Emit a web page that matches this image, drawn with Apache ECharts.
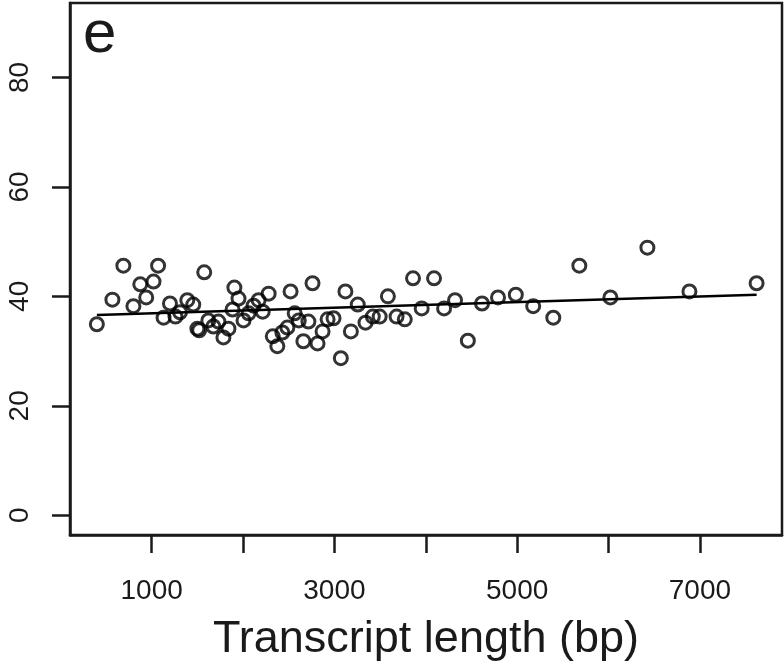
<!DOCTYPE html>
<html>
<head>
<meta charset="utf-8">
<script src="https://cdn.jsdelivr.net/npm/echarts@6/dist/echarts.min.js"></script>
<style>
  html, body { margin: 0; padding: 0; background: #fff; }
  #chart { width: 784px; height: 667px; }
</style>
</head>
<body>
<div id="chart"></div>
<script>
// transcript length (bp) and value per transcript
const lengths = [400, 570, 690, 800, 875, 940, 1020, 1070, 1130, 1200,
  1260, 1310, 1390, 1455, 1500, 1520, 1575, 1620, 1675, 1730,
  1785, 1840, 1885, 1905, 1950, 2005, 2060, 2115, 2170, 2215,
  2280, 2325, 2375, 2430, 2485, 2520, 2565, 2610, 2660, 2715,
  2760, 2815, 2870, 2925, 2990, 3070, 3120, 3180, 3255, 3340,
  3420, 3495, 3585, 3680, 3770, 3860, 3955, 4090, 4200, 4320,
  4460, 4615, 4790, 4985, 5175, 5395, 5680, 6020, 6425, 6885, 7620];
const values = [34.9, 39.4, 45.6, 38.2, 42.2, 39.8, 42.7, 45.6, 36.1, 38.7,
  36.3, 37.1, 39.3, 38.5, 34.1, 33.8, 44.4, 35.6, 34.5, 35.4,
  32.5, 34.1, 37.6, 41.6, 39.6, 35.6, 36.9, 38.3, 39.3, 37.2,
  40.5, 32.7, 30.9, 33.4, 34.3, 40.9, 36.9, 35.6, 31.8, 35.4,
  42.4, 31.4, 33.6, 35.8, 36.0, 28.7, 40.9, 33.6, 38.5, 35.2,
  36.3, 36.3, 40.0, 36.3, 35.8, 43.3, 37.8, 43.3, 37.8, 39.3,
  31.9, 38.7, 39.8, 40.3, 38.2, 36.1, 45.6, 39.8, 48.9, 40.9, 42.4];

// fitted line end points
const fitX = [400, 7620];
const fitY = [36.6, 40.3];

const xTicks = [1000, 2000, 3000, 4000, 5000, 6000, 7000];
const xLabels = [1000, 3000, 5000, 7000];
const yTicks = [0, 20, 40, 60, 80];

const font = 'Liberation Sans, Arial, Helvetica, sans-serif';
const ink = '#1a1a1a';

const chart = echarts.init(document.getElementById('chart'));

chart.setOption({
  backgroundColor: '#fff',
  animation: false,
  title: {
    text: 'e',
    left: 78,
    top: 0,
    textStyle: { fontFamily: font, fontSize: 60, fontWeight: 'normal', color: ink }
  },
  grid: {
    left: 70, right: 2, top: 3, bottom: 129,
    show: true, borderColor: ink, borderWidth: 2.5
  },
  xAxis: {
    type: 'value',
    min: 106,
    max: 7898,
    name: 'Transcript length (bp)',
    nameLocation: 'middle',
    nameGap: 82,
    nameTextStyle: { fontFamily: font, fontSize: 45, color: ink },
    axisLine: { show: true, onZero: false, lineStyle: { color: ink, width: 2.5 } },
    axisTick: { show: true, inside: false, length: 18, customValues: xTicks,
      lineStyle: { color: ink, width: 2.5 } },
    axisLabel: { customValues: xLabels, margin: 42, formatter: v => String(v),
      fontFamily: font, fontSize: 28, color: ink },
    splitLine: { show: false }
  },
  yAxis: {
    type: 'value',
    min: -3.6,
    max: 93.6,
    axisLine: { show: true, onZero: false, lineStyle: { color: ink, width: 2.5 } },
    axisTick: { show: true, inside: false, length: 18, customValues: yTicks,
      lineStyle: { color: ink, width: 2.5 } },
    axisLabel: { customValues: yTicks, rotate: 90, margin: 36, formatter: v => String(v),
      fontFamily: font, fontSize: 28, color: ink },
    splitLine: { show: false }
  },
  series: [
    {
      type: 'scatter',
      data: lengths.map((x, i) => [x, values[i]]),
      symbol: 'circle',
      symbolSize: 13,
      itemStyle: { color: 'transparent', borderColor: '#000', borderWidth: 3 }
    },
    {
      type: 'line',
      data: fitX.map((x, i) => [x, fitY[i]]),
      symbol: 'none',
      lineStyle: { color: '#000', width: 2.5 },
      z: 3
    }
  ]
});
</script>
</body>
</html>
